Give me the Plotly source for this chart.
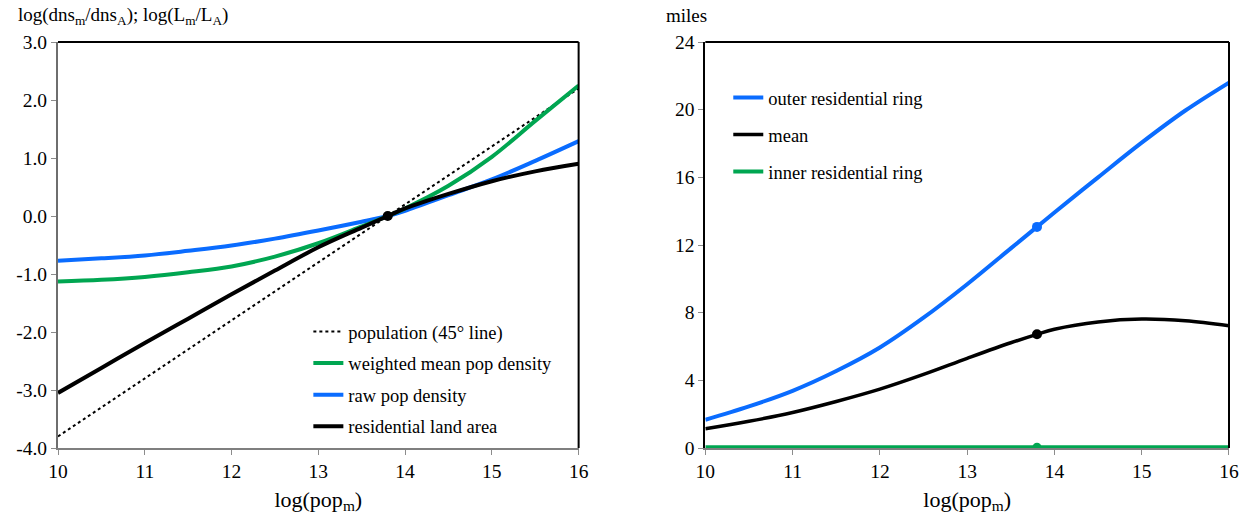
import plotly.graph_objects as go

# log(population) grid shared by both panels
log_pop = [10, 10.5, 11, 11.5, 12, 12.5, 13, 13.5, 13.8, 14, 14.5, 15, 15.5, 16]

# Left panel: log ratios relative to the average city
pop_line_x = [10, 16]
pop_line_y = [-3.8, 2.2]
weighted_density = [-1.13, -1.10, -1.05, -0.97, -0.87, -0.70, -0.47, -0.18, 0.0, 0.13, 0.52, 1.02, 1.64, 2.25]
raw_density = [-0.77, -0.73, -0.68, -0.60, -0.51, -0.39, -0.25, -0.10, 0.0, 0.09, 0.36, 0.63, 0.95, 1.29]
land_area = [-3.05, -2.62, -2.19, -1.77, -1.35, -0.94, -0.54, -0.20, 0.0, 0.13, 0.38, 0.60, 0.77, 0.90]

# Right panel: ring radii in miles
outer_ring = [1.67, 2.46, 3.38, 4.55, 5.94, 7.7, 9.68, 11.8, 13.07, 13.92, 16.0, 18.05, 19.95, 21.6]
mean_ring = [1.14, 1.58, 2.1, 2.75, 3.48, 4.35, 5.3, 6.22, 6.72, 7.02, 7.45, 7.62, 7.52, 7.22]
inner_ring = [0.05, 0.05, 0.05, 0.05, 0.05, 0.05, 0.05, 0.05, 0.05, 0.05, 0.05, 0.05, 0.05, 0.05]

# Average-city reference point
ref_x = 13.8
ref_left = 0.0
ref_outer = 13.07
ref_mean = 6.72
ref_inner = 0.05

x_ticks = [10, 11, 12, 13, 14, 15, 16]
left_y_ticks = [-4, -3, -2, -1, 0, 1, 2, 3]
left_y_text = ["-4.0", "-3.0", "-2.0", "-1.0", "0.0", "1.0", "2.0", "3.0"]
right_y_ticks = [0, 4, 8, 12, 16, 20, 24]

BLUE = "#0a6cff"
GREEN = "#00a651"
BLACK = "#000000"
FONT = "Liberation Serif"

fig = go.Figure()

# ---- left panel ----
fig.add_trace(go.Scatter(x=pop_line_x, y=pop_line_y, mode="lines", name="population (45° line)",
                         line=dict(color=BLACK, width=2, dash="dot"),
                         legend="legend", legendgroup="a", legendrank=1, xaxis="x", yaxis="y"))
fig.add_trace(go.Scatter(x=log_pop, y=raw_density, mode="lines", name="raw pop density",
                         line=dict(color=BLUE, width=4, shape="spline"),
                         legend="legend", legendgroup="c", legendrank=3, xaxis="x", yaxis="y"))
fig.add_trace(go.Scatter(x=log_pop, y=weighted_density, mode="lines", name="weighted mean pop density",
                         line=dict(color=GREEN, width=4, shape="spline"),
                         legend="legend", legendgroup="b", legendrank=2, xaxis="x", yaxis="y"))
fig.add_trace(go.Scatter(x=log_pop, y=land_area, mode="lines", name="residential land area",
                         line=dict(color=BLACK, width=4, shape="spline"),
                         legend="legend", legendgroup="d", legendrank=4, xaxis="x", yaxis="y"))
fig.add_trace(go.Scatter(x=[ref_x], y=[ref_left], mode="markers", showlegend=False,
                         marker=dict(color=BLACK, size=10), xaxis="x", yaxis="y"))

# ---- right panel ----
fig.add_trace(go.Scatter(x=log_pop, y=outer_ring, mode="lines", name="outer residential ring",
                         line=dict(color=BLUE, width=4, shape="spline"),
                         legend="legend2", legendgroup="e", legendrank=1, xaxis="x2", yaxis="y2"))
fig.add_trace(go.Scatter(x=log_pop, y=mean_ring, mode="lines", name="mean",
                         line=dict(color=BLACK, width=3.5, shape="spline"),
                         legend="legend2", legendgroup="f", legendrank=2, xaxis="x2", yaxis="y2"))
fig.add_trace(go.Scatter(x=log_pop, y=inner_ring, mode="lines", name="inner residential ring",
                         line=dict(color=GREEN, width=4, shape="spline"),
                         legend="legend2", legendgroup="g", legendrank=3, xaxis="x2", yaxis="y2"))
fig.add_trace(go.Scatter(x=[ref_x], y=[ref_outer], mode="markers", showlegend=False,
                         marker=dict(color=BLUE, size=10), xaxis="x2", yaxis="y2"))
fig.add_trace(go.Scatter(x=[ref_x], y=[ref_mean], mode="markers", showlegend=False,
                         marker=dict(color=BLACK, size=10), xaxis="x2", yaxis="y2"))
fig.add_trace(go.Scatter(x=[ref_x], y=[ref_inner], mode="markers", showlegend=False,
                         marker=dict(color=GREEN, size=9), xaxis="x2", yaxis="y2"))

tick_font = dict(family=FONT, size=19.5, color=BLACK)
axis_common = dict(showgrid=False, zeroline=False, ticks="outside", ticklen=5,
                   tickcolor="#8c8c8c", tickwidth=1, tickfont=tick_font, showline=True,
                   linewidth=2)

fig.update_layout(
    width=1251, height=525,
    margin=dict(l=58, r=19, t=42, b=77),
    paper_bgcolor="white", plot_bgcolor="white",
    font=dict(family=FONT, size=19, color=BLACK),
    xaxis=dict(domain=[0, 0.4446], range=[10, 16], tickvals=x_ticks, linecolor="#7f7f7f",
               title=dict(text="log(pop<sub>m</sub>)", font=dict(family=FONT, size=22), standoff=10),
               **axis_common),
    yaxis=dict(domain=[0, 1], range=[-4, 3], tickvals=left_y_ticks, ticktext=left_y_text,
               linecolor="#6e6e6e", **axis_common),
    xaxis2=dict(domain=[0.5528, 1], range=[10, 16], tickvals=x_ticks, linecolor="#7f7f7f",
                anchor="y2",
                title=dict(text="log(pop<sub>m</sub>)", font=dict(family=FONT, size=22), standoff=10),
                **axis_common),
    yaxis2=dict(domain=[0, 1], range=[0, 24], tickvals=right_y_ticks, anchor="x2",
                linecolor=BLACK, **axis_common),
    legend=dict(x=0.2138, y=0.3325, xanchor="left", yanchor="top", bgcolor="rgba(0,0,0,0)",
                font=dict(family=FONT, size=18.5), tracegroupgap=4.5, traceorder="grouped"),
    legend2=dict(x=0.5724, y=0.909, xanchor="left", yanchor="top", bgcolor="rgba(0,0,0,0)",
                 font=dict(family=FONT, size=18.5), tracegroupgap=10, traceorder="grouped"),
    showlegend=True,
)

# Closed frame: black top and right edges of each panel
for xr, yr in (("x domain", "y domain"), ("x2 domain", "y2 domain")):
    fig.add_shape(type="line", xref=xr, yref=yr, x0=0, x1=1, y0=1, y1=1,
                  line=dict(color=BLACK, width=2))
    fig.add_shape(type="line", xref=xr, yref=yr, x0=1, x1=1, y0=0, y1=1,
                  line=dict(color=BLACK, width=2))

# Vertical-axis titles sit above each panel
fig.add_annotation(text="log(dns<sub>m</sub>/dns<sub>A</sub>); log(L<sub>m</sub>/L<sub>A</sub>)",
                   xref="paper", yref="paper", x=-0.036, y=1.065, xanchor="left", yanchor="middle",
                   showarrow=False, font=dict(family=FONT, size=19))
fig.add_annotation(text="miles", xref="paper", yref="paper", x=0.5179, y=1.065,
                   xanchor="left", yanchor="middle", showarrow=False,
                   font=dict(family=FONT, size=19))

fig.write_html("out.html")
